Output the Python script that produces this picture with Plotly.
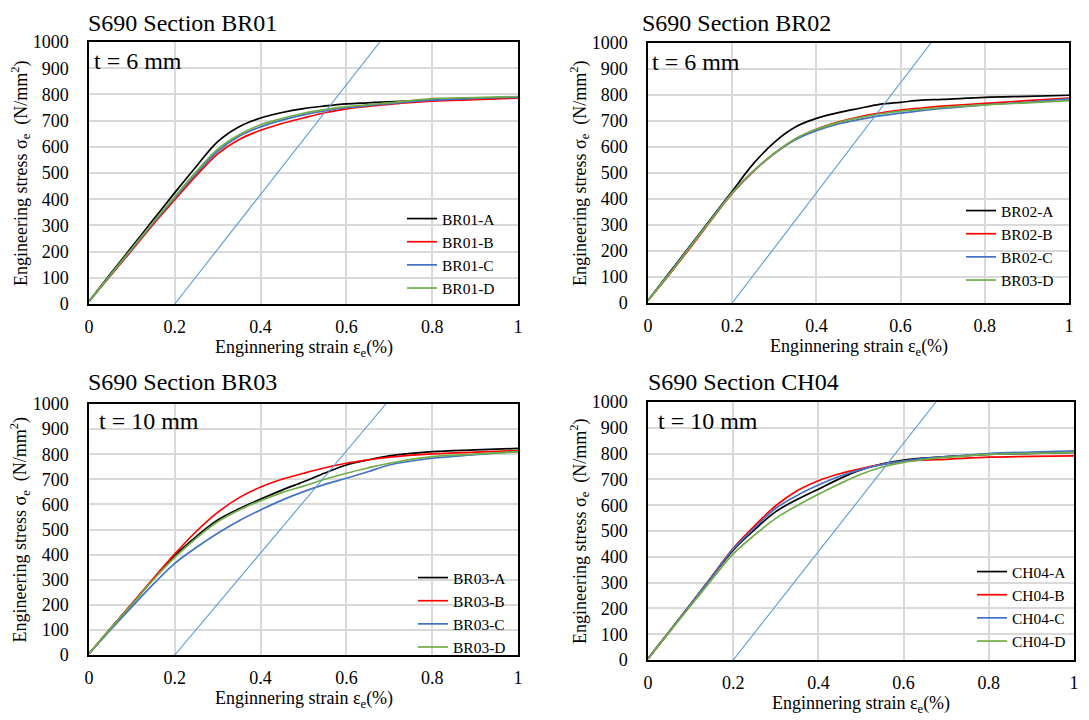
import plotly.graph_objects as go

W, H = 1089, 720

# ---------------- data ----------------
strain = [0, 0.05, 0.1, 0.15, 0.2, 0.25, 0.3, 0.35, 0.4, 0.45, 0.5, 0.55, 0.6, 0.65, 0.7, 0.8, 0.9, 1.0]

br01_a = [10, 115, 218, 322, 425, 525, 620, 677, 710, 731, 746, 756, 764, 768, 772, 778, 784, 790]
br01_b = [10, 108, 205, 305, 398, 490, 573, 628, 663, 689, 710, 730, 745, 754, 762, 774, 780, 786]
br01_c = [10, 110, 209, 310, 405, 498, 583, 640, 676, 702, 722, 737, 749, 757, 765, 778, 785, 789]
br01_d = [10, 112, 212, 313, 410, 505, 591, 646, 684, 708, 728, 742, 753, 761, 768, 784, 788, 792]

br02_a = [10, 115, 220, 325, 430, 535, 618, 677, 710, 731, 748, 764, 772, 780, 783, 791, 795, 799]
br02_b = [10, 108, 212, 318, 421, 505, 575, 630, 668, 695, 715, 730, 742, 750, 757, 768, 778, 788]
br02_c = [10, 112, 217, 322, 425, 507, 575, 628, 663, 688, 705, 720, 730, 740, 748, 762, 772, 785]
br02_d = [10, 110, 215, 320, 423, 507, 576, 632, 668, 693, 712, 727, 738, 745, 752, 762, 770, 778]

br03_a = [5, 105, 203, 303, 396, 472, 538, 583, 621, 657, 690, 725, 757, 777, 793, 810, 817, 823]
br03_b = [5, 105, 205, 305, 403, 492, 568, 627, 669, 700, 724, 746, 764, 777, 788, 801, 808, 814]
br03_c = [5, 100, 192, 282, 365, 428, 485, 535, 578, 617, 651, 680, 704, 730, 757, 784, 798, 810]
br03_d = [5, 105, 202, 300, 389, 466, 531, 578, 615, 647, 673, 700, 724, 745, 764, 790, 800, 810]

ch04_a = [5, 110, 215, 322, 426, 505, 575, 622, 662, 703, 737, 760, 775, 783, 788, 797, 801, 805]
ch04_b = [5, 110, 217, 325, 433, 520, 598, 656, 695, 722, 742, 758, 770, 775, 778, 786, 789, 791]
ch04_c = [5, 110, 216, 323, 430, 512, 588, 638, 678, 712, 738, 758, 772, 782, 788, 800, 806, 811]
ch04_d = [5, 108, 210, 312, 411, 484, 549, 598, 642, 683, 720, 748, 766, 777, 785, 797, 801, 804]

# 0.2 % offset lines: (strain, stress)
offset_x = {"BR01": [0.2, 0.678], "BR02": [0.2, 0.672], "BR03": [0.2, 0.692], "CH04": [0.2, 0.676]}
offset_y = [0, 1000]

panels = [
    dict(name="BR01", thick="t = 6 mm",
         series=[("BR01-A", br01_a), ("BR01-B", br01_b), ("BR01-C", br01_c), ("BR01-D", br01_d)]),
    dict(name="BR02", thick="t = 6 mm",
         series=[("BR02-A", br02_a), ("BR02-B", br02_b), ("BR02-C", br02_c), ("BR03-D", br02_d)]),
    dict(name="BR03", thick="t = 10 mm",
         series=[("BR03-A", br03_a), ("BR03-B", br03_b), ("BR03-C", br03_c), ("BR03-D", br03_d)]),
    dict(name="CH04", thick="t = 10 mm",
         series=[("CH04-A", ch04_a), ("CH04-B", ch04_b), ("CH04-C", ch04_c), ("CH04-D", ch04_d)]),
]

xticks = [0, 0.2, 0.4, 0.6, 0.8, 1.0]
xticklabels = ["0", "0.2", "0.4", "0.6", "0.8", "1"]
yticks = list(range(0, 1001, 100))

# ---------------- layout geometry (pixels) ----------------
boxes = [  # left, right, top, bottom
    (89, 518, 42, 304),
    (648, 1069, 43, 303),
    (89, 518, 404, 655),
    (648, 1074, 402, 660),
]
title_pos = [(86, 23), (640, 23), (86, 382), (646, 382)]
thick_pos = [(92, 61), (650, 62), (97, 421), (656, 421)]
legend_pos = [(402, 202), (961, 194), (413, 561), (972, 555)]

colors = ["#000000", "#ff0000", "#4472c4", "#70ad47"]
FONT = "Liberation Serif, Times New Roman, Tinos, DejaVu Serif, serif"


def px(x):
    return x / W


def py(y):
    return 1 - y / H


fig = go.Figure()
layout = dict(
    width=W, height=H, margin=dict(l=0, r=0, t=0, b=0, pad=0, autoexpand=False),
    paper_bgcolor="white", plot_bgcolor="white",
    font=dict(family=FONT, size=18, color="black"),
    annotations=[],
)

for i, p in enumerate(panels):
    k = "" if i == 0 else str(i + 1)
    xa, ya = "x" + k, "y" + k
    leg = "legend" if i == 0 else "legend" + str(i + 1)
    l, r, t, b = boxes[i]
    layout["xaxis" + k] = dict(
        domain=[px(l), px(r)], anchor=ya, range=[0, 1], automargin=False,
        tickvals=xticks, ticktext=xticklabels,
        showgrid=True, gridcolor="#d9d9d9", gridwidth=1.5,
        showline=True, mirror=True, linecolor="black", linewidth=1.5,
        zeroline=False, ticks="", ticklabelstandoff=6,
        tickfont=dict(size=18, family=FONT),
    )
    layout["yaxis" + k] = dict(
        domain=[py(b), py(t)], anchor=xa, range=[0, 1000], automargin=False,
        tickvals=yticks,
        showgrid=True, gridcolor="#d9d9d9", gridwidth=1.5,
        showline=True, mirror=True, linecolor="black", linewidth=1.5,
        zeroline=False, ticks="", ticklabelstandoff=15,
        tickfont=dict(size=18, family=FONT),
    )
    for j, (nm, vals) in enumerate(p["series"]):
        fig.add_trace(go.Scatter(
            x=strain, y=vals, mode="lines", name=nm,
            line=dict(color=colors[j], width=1.7, shape="spline", smoothing=1.0),
            xaxis=xa, yaxis=ya, legend=leg,
        ))
    fig.add_trace(go.Scatter(
        x=offset_x[p["name"]], y=offset_y, mode="lines",
        line=dict(color="#5b9bd5", width=1.1),
        xaxis=xa, yaxis=ya, showlegend=False, hoverinfo="skip",
    ))
    lx, ly = legend_pos[i]
    layout[leg] = dict(
        x=px(lx), y=py(ly), xanchor="left", yanchor="top",
        bgcolor="rgba(0,0,0,0)", borderwidth=0,
        font=dict(size=15.5, family=FONT),
        itemwidth=30, tracegroupgap=0,
    )
    # panel title
    tx, ty = title_pos[i]
    layout["annotations"].append(dict(
        x=px(tx), y=py(ty), xref="paper", yref="paper", xanchor="left", yanchor="middle",
        text="S690 Section " + p["name"], showarrow=False, font=dict(size=24, family=FONT)))
    hx, hy = thick_pos[i]
    layout["annotations"].append(dict(
        x=px(hx), y=py(hy), xref="paper", yref="paper", xanchor="left", yanchor="middle",
        text=p["thick"], showarrow=False, font=dict(size=24, family=FONT)))
    # axis titles
    layout["annotations"].append(dict(
        x=px((l + r) / 2), y=py(b + 44), xref="paper", yref="paper", xanchor="center", yanchor="middle",
        text="Enginnering strain ε<sub>e</sub>(%)", showarrow=False, font=dict(size=18, family=FONT)))
    layout["annotations"].append(dict(
        x=px(l - 69), y=py((t + b) / 2), xref="paper", yref="paper", xanchor="center", yanchor="middle",
        textangle=-90,
        text="Engineering stress σ<sub>e</sub>  (N/mm<sup>2</sup>)", showarrow=False,
        font=dict(size=18, family=FONT)))

fig.update_layout(**layout)
fig.write_html("out.html")
